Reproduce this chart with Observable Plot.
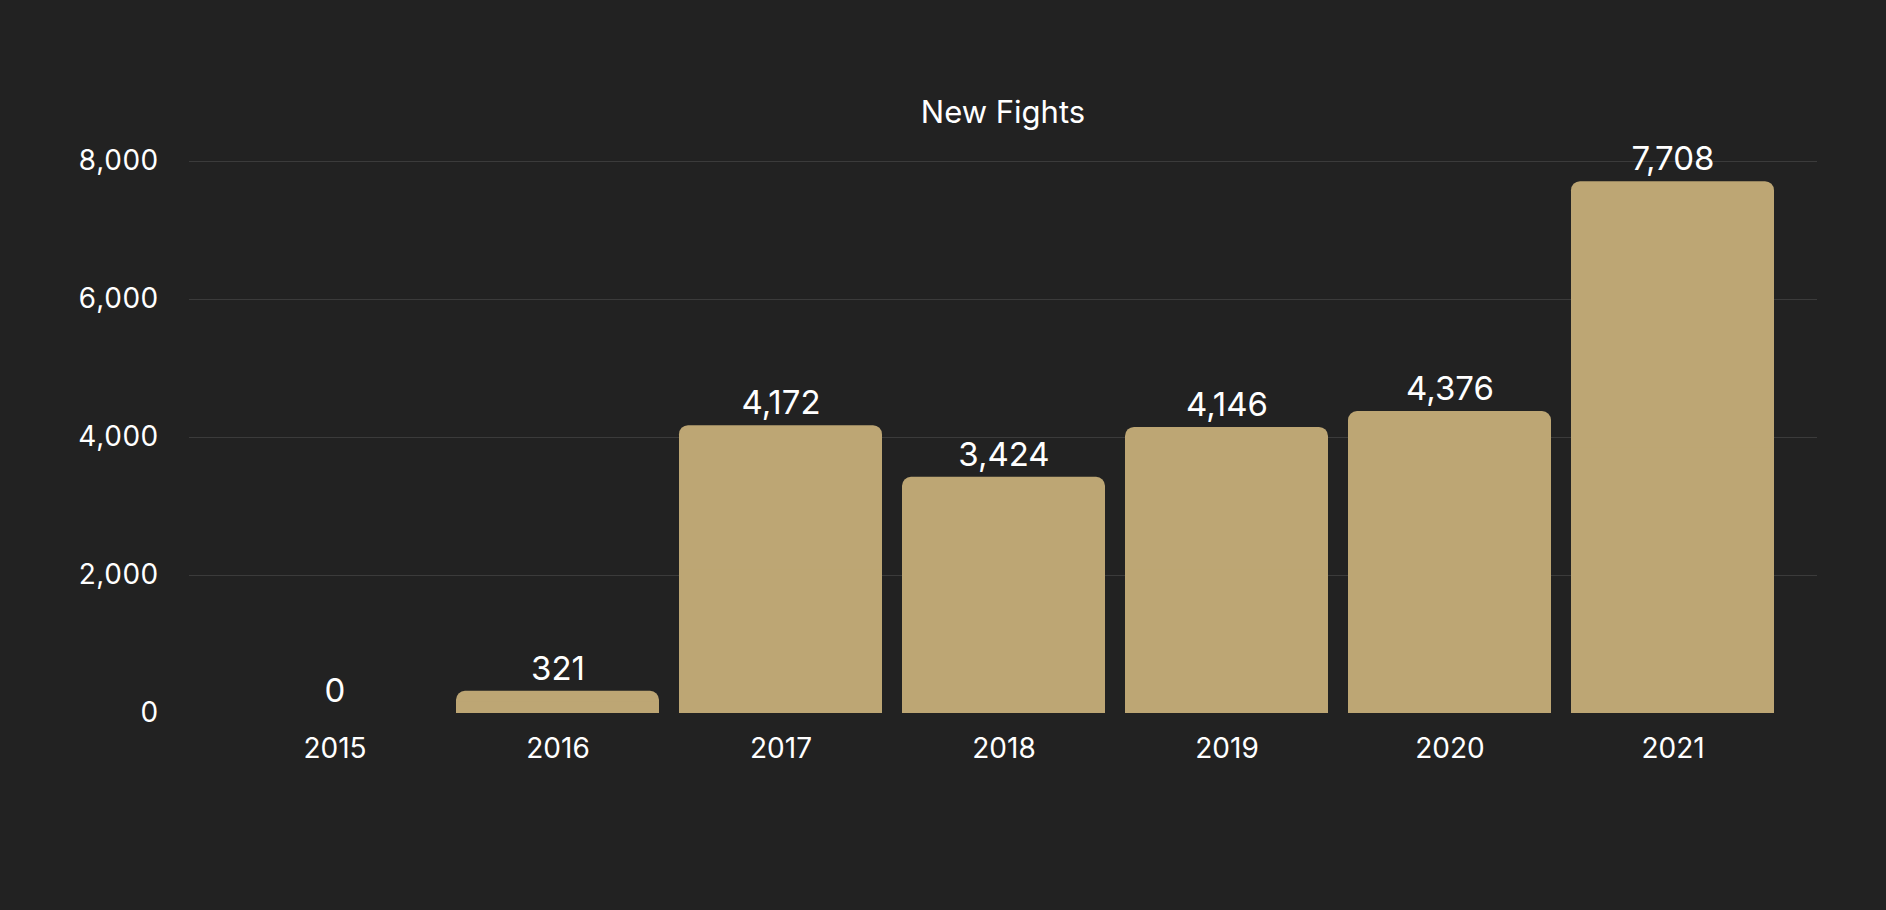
<!DOCTYPE html>
<html>
<head>
<meta charset="utf-8">
<script src="https://cdn.jsdelivr.net/npm/d3@7"></script>
<script src="https://cdn.jsdelivr.net/npm/@observablehq/plot@0.6"></script>
<style>
  html, body { margin: 0; padding: 0; background: #222222; }
  body { width: 1886px; height: 910px; overflow: hidden; font-family: Inter, "Noto Sans", sans-serif; }
  #title { height: 130px; box-sizing: border-box; padding-top: 95px; line-height: 34px;
           font-size: 31px; color: #ffffff; text-align: center; padding-left: 120px; }
  #chart svg { display: block; }
</style>
</head>
<body>
<div id="title">New Fights</div>
<div id="chart"></div>
<script>
const years = ["2015", "2016", "2017", "2018", "2019", "2020", "2021"];
const fights = [0, 321, 4172, 3424, 4146, 4376, 7708];
const yTicks = [0, 2000, 4000, 6000, 8000];
const gridTicks = [2000, 4000, 6000, 8000];

const data = years.map((year, i) => ({year, value: fights[i]}));
const fmt = d3.format(",d");
const barColor = "#bda674";

const chart = Plot.plot({
  width: 1886,
  height: 780,
  marginTop: 31,
  marginBottom: 197,
  marginLeft: 189,
  marginRight: 69,
  style: {background: "transparent", color: "#ffffff", fontFamily: "Inter, 'Noto Sans', sans-serif", fontSize: "28px"},
  x: {domain: years, paddingInner: 0.09, paddingOuter: 0.18, label: null, tickSize: 0, tickPadding: 25},
  y: {domain: [0, 8000], ticks: yTicks, tickFormat: fmt, label: null, tickSize: 0, tickPadding: 31},
  marks: [
    Plot.ruleY(gridTicks, {stroke: "#3b3b3b", strokeWidth: 1}),
    Plot.barY(data, {x: "year", y: "value", fill: barColor, rx: 9}),
    Plot.barY(data, {x: "year", y1: 0, y2: d => d.value / 2, fill: barColor}),
    Plot.text(data, {x: "year", y: "value", text: d => fmt(d.value), dy: -22, fill: "#ffffff", fontSize: 33})
  ]
});
document.getElementById("chart").appendChild(chart);
</script>
</body>
</html>
